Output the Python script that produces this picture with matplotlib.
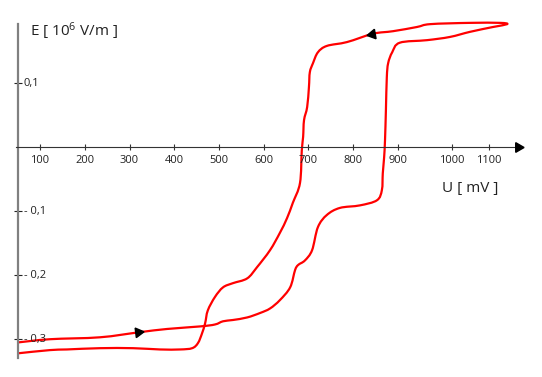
import numpy as np
import matplotlib
matplotlib.use("Agg")
import matplotlib.pyplot as plt
from matplotlib.path import Path
from matplotlib.patches import PathPatch

plt.rcParams['font.family'] = ['Open Sans', 'DejaVu Sans']
plt.rcParams['mathtext.default'] = 'regular'

# hysteresis loop (U in mV, E in 10^6 V/m)
u = [51, 122, 234, 323, 384, 458, 491, 509, 531, 563, 592, 614, 636, 659, 670,
     677, 692, 708, 721, 741, 770, 815, 853, 864, 866, 869, 871, 873, 875, 878,
     887, 904, 965, 1016, 1061, 1112, 1144, 1128, 1061, 972, 942, 889, 844, 786,
     741, 721, 710, 703, 701, 697, 690, 688, 685, 681, 665, 652, 636, 614, 585,
     563, 531, 509, 491, 475, 469, 462, 453, 440, 413, 368, 308, 234, 160, 122, 51]
e = [-0.305, -0.300, -0.297, -0.289, -0.284, -0.280, -0.277, -0.272, -0.270,
     -0.266, -0.259, -0.252, -0.239, -0.219, -0.192, -0.184, -0.177, -0.161,
     -0.125, -0.106, -0.095, -0.091, -0.083, -0.067, -0.041, -0.016, 0.011,
     0.058, 0.109, 0.131, 0.148, 0.163, 0.167, 0.172, 0.180, 0.1875, 0.192,
     0.194, 0.194, 0.192, 0.1875, 0.181, 0.177, 0.164, 0.158, 0.148, 0.131,
     0.117, 0.094, 0.0625, 0.042, 0.016, -0.005, -0.056, -0.087, -0.111,
     -0.134, -0.161, -0.1875, -0.205, -0.2125, -0.219, -0.234, -0.255, -0.275,
     -0.291, -0.306, -0.314, -0.316, -0.316, -0.314, -0.314, -0.316, -0.317, -0.322]

# direction arrows on the loop
arrow_u = [320, 842]
arrow_e = [-0.289, 0.177]
arrow_rot = [-83, 100]

# axis ticks (spacing on the original is not even at the right end)
x_ticks = [100, 200, 300, 400, 500, 600, 700, 800, 900, 1020, 1103]
x_labels = ['100', '200', '300', '400', '500', '600', '700', '800', '900', '1000', '1100']
y_ticks = [0.1, -0.1, -0.2, -0.3]
y_labels = ['0,1', '- 0,1', '- 0,2', '- 0,3']


def smooth_path(xs, ys):
    # catmull-rom through the read points, drawn as cubic bezier pieces
    p = np.column_stack([xs, ys]).astype(float)
    p = np.vstack([p[0], p, p[-1]])
    verts = [p[1]]
    codes = [Path.MOVETO]
    for i in range(1, len(p) - 2):
        c1 = p[i] + (p[i + 1] - p[i - 1]) / 6
        c2 = p[i + 1] - (p[i + 2] - p[i]) / 6
        verts += [c1, c2, p[i + 1]]
        codes += [Path.CURVE4] * 3
    return Path(verts, codes)


fig = plt.figure(figsize=(5.42, 3.77), dpi=100)
ax = fig.add_axes([0, 0, 1, 1])
ax.set_xlim(10.6, 1221.8)
ax.set_ylim(-0.359, 0.2297)

ax.add_patch(PathPatch(smooth_path(u, e), fc='none', ec='#ff0000', lw=1.6,
                       joinstyle='round', capstyle='round'))
for a, b, r in zip(arrow_u, arrow_e, arrow_rot):
    ax.plot(a, b, marker=(3, 0, r), color='black', ms=8, mec='black', zorder=5)

for s in ['top', 'right']:
    ax.spines[s].set_visible(False)
ax.spines['left'].set_position(('data', 51))
ax.spines['left'].set_bounds(-0.33, 0.192)
ax.spines['left'].set_color('#808080')
ax.spines['left'].set_linewidth(1.6)
ax.spines['bottom'].set_position(('data', 0))
ax.spines['bottom'].set_bounds(46, 1168)
ax.spines['bottom'].set_color('#333333')
ax.spines['bottom'].set_linewidth(0.8)
ax.plot(1168, 0, marker=(3, 0, -90), color='black', ms=8, clip_on=False, zorder=6)

ax.set_xticks(x_ticks)
ax.set_xticklabels(x_labels)
ax.tick_params(axis='x', direction='inout', length=5, width=0.8, color='#333333',
               labelsize=8, pad=3, labelcolor='#222222')
ax.set_yticks(y_ticks)
ax.set_yticklabels([])
ax.tick_params(axis='y', direction='inout', length=6, width=0.8, color='#222222')
for yt, lab in zip(y_ticks, y_labels):
    ax.text(64, yt, lab, fontsize=8, va='center', ha='left', color='#222222')

ax.text(78, 0.173, 'E [ 10$^6$ V/m ]', fontsize=11, va='baseline', ha='left', color='#222222')
ax.text(998, -0.070, 'U [ mV ]', fontsize=11, va='baseline', ha='left', color='#222222')

fig.savefig('out.png', dpi=100)
